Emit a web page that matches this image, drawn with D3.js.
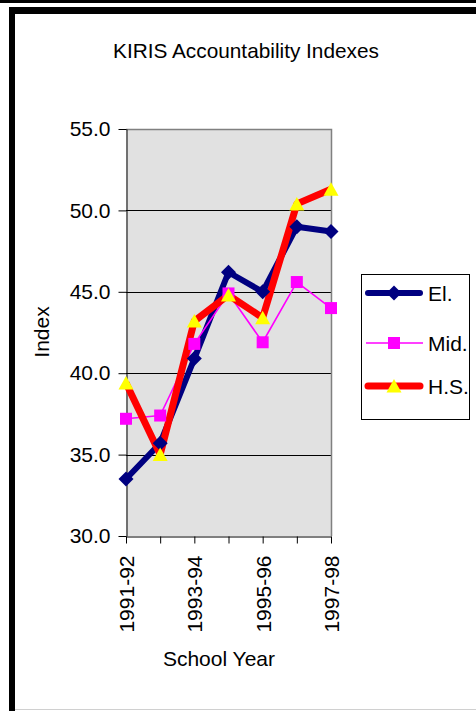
<!DOCTYPE html>
<html>
<head>
<meta charset="utf-8">
<script src="https://cdn.jsdelivr.net/npm/d3@7"></script>
<style>
  html, body { margin: 0; padding: 0; background: #fff; }
  svg { display: block; }
  text { font-family: "Liberation Sans", Arial, sans-serif; fill: #000; }
</style>
</head>
<body>
<div id="chart"></div>
<script>
// ---- data ----
const years = ['1991-92', '1992-93', '1993-94', '1994-95', '1995-96', '1996-97', '1997-98'];
const elementary = [33.5, 35.7, 40.9, 46.2, 45.0, 49.0, 48.7];
const middle = [37.2, 37.4, 41.8, 44.9, 41.9, 45.6, 44.0];
const highSchool = [39.4, 35.0, 43.2, 44.8, 43.4, 50.4, 51.3];
const yTicks = [30, 35, 40, 45, 50, 55];
const gridValues = [35, 40, 45, 50];

const series = [
  { name: 'El.', values: elementary, color: '#000080', width: 6, marker: 'diamond', fill: '#000080' },
  { name: 'Mid.', values: middle, color: '#ff00ff', width: 1.6, marker: 'square', fill: '#ff00ff' },
  { name: 'H.S.', values: highSchool, color: '#ff0000', width: 7, marker: 'triangle', fill: '#ffff00' }
];

// ---- layout ----
const W = 476, H = 711;
const plot = { left: 126, right: 331, top: 129, bottom: 536 };

const svg = d3.select('#chart').append('svg')
  .attr('width', W)
  .attr('height', H);

// frame
svg.append('rect').attr('x', 0).attr('y', 0).attr('width', W).attr('height', 3).attr('fill', '#000');
svg.append('rect').attr('x', 9).attr('y', 7).attr('width', W - 9).attr('height', 7).attr('fill', '#000');
svg.append('rect').attr('x', 9).attr('y', 7).attr('width', 6).attr('height', H - 7).attr('fill', '#000');
svg.append('line')
  .attr('x1', 15).attr('x2', W).attr('y1', 709.5).attr('y2', 709.5)
  .attr('stroke', '#d0d0d0').attr('stroke-width', 1);

// scales
const x = d3.scalePoint().domain(years).range([plot.left, plot.right]).padding(0);
const y = d3.scaleLinear().domain([30, 55]).range([plot.bottom, plot.top]);

// plot area
svg.append('rect')
  .attr('x', plot.left).attr('y', plot.top)
  .attr('width', plot.right - plot.left).attr('height', plot.bottom - plot.top)
  .attr('fill', '#e1e1e1');

svg.append('g').selectAll('line')
  .data(gridValues)
  .join('line')
  .attr('x1', plot.left).attr('x2', plot.right)
  .attr('y1', d => Math.round(y(d)) + 0.5).attr('y2', d => Math.round(y(d)) + 0.5)
  .attr('stroke', '#000').attr('stroke-width', 1);

// top / right border
svg.append('path')
  .attr('d', `M${plot.left},${plot.top + 0.5}H${plot.right + 0.5}V${plot.bottom}`)
  .attr('fill', 'none').attr('stroke', '#808080').attr('stroke-width', 1.5);

// axes
const yAxis = svg.append('g')
  .attr('transform', `translate(${plot.left + 0.5},0)`)
  .call(d3.axisLeft(y).tickValues(yTicks).tickFormat(d3.format('.1f')).tickSize(8).tickSizeOuter(0).tickPadding(8));
yAxis.selectAll('text').style('font-size', '21px').attr('fill', '#000');

const xAxis = svg.append('g')
  .attr('transform', `translate(0,${plot.bottom + 0.5})`)
  .call(d3.axisBottom(x).tickSize(7).tickSizeOuter(0).tickFormat((d, i) => i % 2 === 0 ? d : ''));
xAxis.selectAll('text')
  .style('font-size', '21px')
  .attr('fill', '#000')
  .attr('transform', 'rotate(-90)')
  .attr('text-anchor', 'end')
  .attr('x', -19)
  .attr('y', 0)
  .attr('dy', '0.36em');

svg.selectAll('.domain, .tick line').attr('stroke', '#000');

// markers
function markerPath(type) {
  if (type === 'diamond') return 'M0,-7.5L7.5,0L0,7.5L-7.5,0Z';
  if (type === 'square') return 'M-6,-6H6V6H-6Z';
  return 'M0,-7L7.5,6.5H-7.5Z';
}

const line = d3.line()
  .x((d, i) => x(years[i]))
  .y(d => y(d));

// lines first, then markers on top
series.forEach(s => {
  svg.append('path')
    .datum(s.values)
    .attr('d', line)
    .attr('fill', 'none')
    .attr('stroke', s.color)
    .attr('stroke-width', s.width)
    .attr('stroke-linejoin', 'round');
});

series.forEach(s => {
  svg.append('g').selectAll('path')
    .data(s.values)
    .join('path')
    .attr('transform', (d, i) => `translate(${x(years[i])},${y(d)})`)
    .attr('d', markerPath(s.marker))
    .attr('fill', s.fill);
});

// legend
const legendRows = [293, 343, 386];
svg.append('rect')
  .attr('x', 361.5).attr('y', 274.5)
  .attr('width', 108).attr('height', 145)
  .attr('fill', '#fff').attr('stroke', '#000').attr('stroke-width', 1);

series.forEach((s, i) => {
  const ly = legendRows[i];
  const thick = s.width > 3;
  svg.append('line')
    .attr('x1', thick ? 368 : 366).attr('x2', thick ? 420 : 423).attr('y1', ly).attr('y2', ly)
    .attr('stroke', s.color).attr('stroke-width', s.width)
    .attr('stroke-linecap', thick ? 'round' : 'butt');
  svg.append('path')
    .attr('transform', `translate(394,${ly})`)
    .attr('d', markerPath(s.marker))
    .attr('fill', s.fill);
  svg.append('text')
    .attr('x', 428).attr('y', ly).attr('dy', '0.36em')
    .style('font-size', '21px')
    .text(s.name);
});

// titles
svg.append('text')
  .attr('x', 246).attr('y', 58)
  .attr('text-anchor', 'middle')
  .style('font-size', '20.8px')
  .text('KIRIS Accountability Indexes');

svg.append('text')
  .attr('x', 219).attr('y', 666)
  .attr('text-anchor', 'middle')
  .style('font-size', '21px')
  .text('School Year');

svg.append('text')
  .attr('transform', 'translate(49,332) rotate(-90)')
  .attr('text-anchor', 'middle')
  .style('font-size', '21px')
  .text('Index');
</script>
</body>
</html>
